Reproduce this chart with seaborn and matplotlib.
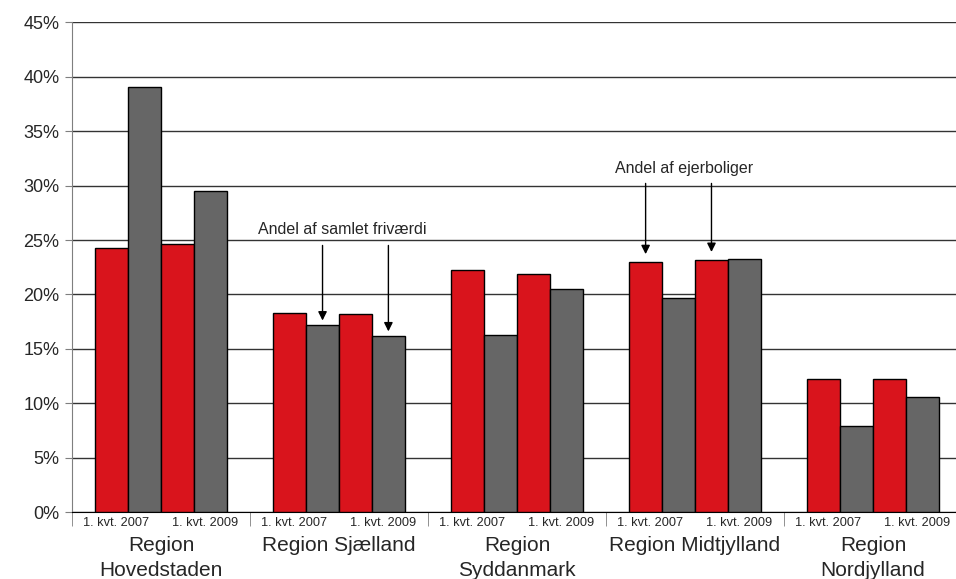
import pandas as pd
import matplotlib
matplotlib.use("Agg")
import matplotlib.pyplot as plt
import seaborn as sns
from matplotlib.ticker import FuncFormatter, MultipleLocator

# data (andel i procent)
regioner = ["Hovedstaden", "Sjælland", "Syddanmark", "Midtjylland", "Nordjylland"]
region_labels = ["Region\nHovedstaden", "Region Sjælland", "Region\nSyddanmark",
                 "Region Midtjylland", "Region\nNordjylland"]
perioder = ["1. kvt. 2007", "1. kvt. 2009"]
ejerboliger_2007 = [24.3, 18.3, 22.2, 23.0, 12.2]
frivaerdi_2007 = [39.1, 17.2, 16.3, 19.7, 7.9]
ejerboliger_2009 = [24.6, 18.2, 21.9, 23.2, 12.2]
frivaerdi_2009 = [29.5, 16.2, 20.5, 23.3, 10.6]

serier = {
    "ejer 2007": ejerboliger_2007,
    "friv 2007": frivaerdi_2007,
    "ejer 2009": ejerboliger_2009,
    "friv 2009": frivaerdi_2009,
}
rows = []
for navn, vals in serier.items():
    for r, v in zip(regioner, vals):
        rows.append({"region": r, "serie": navn, "andel": v})
df = pd.DataFrame(rows)

RED = "#D9141C"
GREY = "#666666"

sns.set_style("white")
plt.rcParams["font.family"] = ["Liberation Sans", "DejaVu Sans"]

fig = plt.figure(figsize=(9.56, 5.79), dpi=100)
ax = fig.add_axes([0.0753, 0.1157, 0.931, 0.8456])

sns.barplot(data=df, x="region", y="andel", hue="serie", order=regioner,
            hue_order=list(serier.keys()), palette=[RED, GREY, RED, GREY],
            width=0.74, saturation=1, edgecolor="black", linewidth=1,
            legend=False, ax=ax, zorder=3)

ax.set_xlim(-0.5, len(regioner) - 0.5)
ax.set_ylim(0, 45)
ax.yaxis.set_major_locator(MultipleLocator(5))
ax.yaxis.set_major_formatter(FuncFormatter(lambda v, p: f"{v:.0f}%"))
ax.grid(axis="y", color="#333333", linewidth=1, zorder=0)
ax.set_axisbelow(True)
ax.tick_params(axis="y", labelsize=13, length=5, direction="out", left=True,
               color="#7f7f7f", pad=4)

# kategori-grænser som tick marks
ax.set_xticks([])
ax.set_xticks([i - 0.5 for i in range(len(regioner) + 1)], minor=True)
ax.tick_params(axis="x", which="minor", length=10, direction="out",
               bottom=True, color="#7f7f7f")
ax.set_xlabel("")
ax.set_ylabel("")

for side in ["top", "right"]:
    ax.spines[side].set_visible(False)
ax.spines["left"].set_color("#7f7f7f")
ax.spines["bottom"].set_color("black")

trans = ax.get_xaxis_transform()
for i, lab in enumerate(region_labels):
    for j, per in enumerate(perioder):
        ax.text(i - 0.25 + 0.5 * j, -0.022, per, transform=trans, ha="center",
                va="center", fontsize=9.2)
    ax.text(i, -0.048, lab, transform=trans, ha="center", va="top",
            fontsize=15, linespacing=1.45)

# annotationer
arrow = dict(arrowstyle="-|>", color="black", lw=1, mutation_scale=13,
             shrinkA=0, shrinkB=0)
conts = ax.containers
for c in (1, 3):
    bar = conts[c][1]
    x = bar.get_x() + bar.get_width() / 2
    ax.annotate("", xy=(x, bar.get_height() + 0.4), xytext=(x, 24.5),
                arrowprops=arrow, zorder=5)
ax.text(1.02, 26.0, "Andel af samlet friværdi", ha="center", va="center",
        fontsize=11.5)

for c in (0, 2):
    bar = conts[c][3]
    x = bar.get_x() + bar.get_width() / 2
    ax.annotate("", xy=(x, bar.get_height() + 0.7), xytext=(x, 30.2),
                arrowprops=arrow, zorder=5)
ax.text(2.94, 31.6, "Andel af ejerboliger", ha="center", va="center",
        fontsize=11.5)

fig.savefig("out.png", dpi=100)
